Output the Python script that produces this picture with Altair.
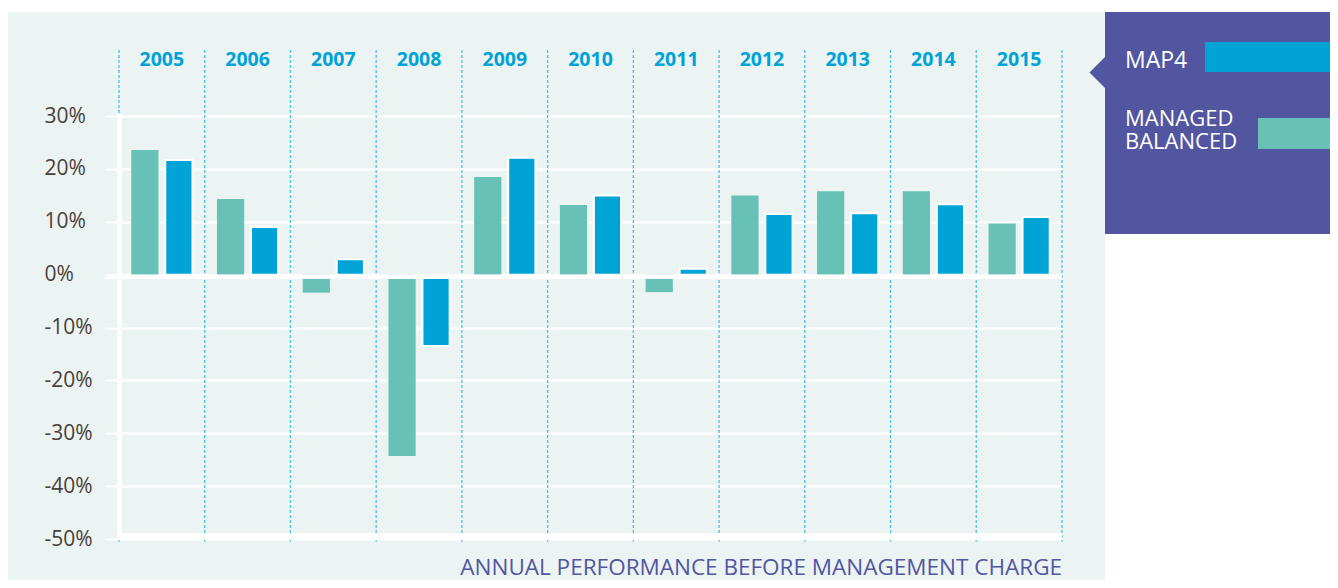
import altair as alt
import pandas as pd

years = ["2005", "2006", "2007", "2008", "2009", "2010", "2011", "2012", "2013", "2014", "2015"]
managed_balanced = [23.6, 14.3, -3.4, -34.3, 18.5, 13.2, -3.3, 15.0, 15.8, 15.8, 9.7]
map4 = [21.7, 9.0, 2.9, -13.5, 22.1, 15.0, 1.1, 11.5, 11.6, 13.3, 10.9]
series_names = ["MANAGED BALANCED", "MAP4"]
series_colors = ["#67C1B6", "#00A3D6"]
y_ticks = [-50, -40, -30, -20, -10, 0, 10, 20, 30]
title_text = "ANNUAL PERFORMANCE BEFORE MANAGEMENT CHARGE"

FONT = "Open Sans"
BG = "#ECF4F3"
PURPLE = "#5256A1"

rows = []
for i, y in enumerate(years):
    rows.append({"year": y, "series": series_names[0], "value": managed_balanced[i]})
    rows.append({"year": y, "series": series_names[1], "value": map4[i]})
df = pd.DataFrame(rows)
years_df = pd.DataFrame({"year": years})
one = pd.DataFrame({"a": [0]})

W, H = 943, 489
Y_TOP = 42.5
xscale = alt.Scale(domain=years, paddingInner=0, paddingOuter=0)
yscale = alt.Scale(domain=[-50, Y_TOP], nice=False, zero=False)

yaxis = alt.Axis(
    values=y_ticks, grid=True, gridColor="white", gridWidth=2,
    tickColor="white", tickWidth=2, tickSize=14, domain=False,
    labelAlign="left", labelPadding=61, labelFont=FONT, labelFontSize=21,
    labelColor="#4A403A", labelBaseline="middle", title=None,
    labelExpr="datum.value + '%'",
)

bars = alt.Chart(df).mark_bar(strokeWidth=2).encode(
    x=alt.X("year:N", scale=xscale, axis=None, sort=years),
    xOffset=alt.XOffset("series:N", sort=series_names,
                        scale=alt.Scale(domain=series_names, paddingInner=0.2, paddingOuter=0.36)),
    y=alt.Y("value:Q", scale=yscale, axis=yaxis),
    y2=alt.datum(0),
    color=alt.Color("series:N", scale=alt.Scale(domain=series_names, range=series_colors), legend=None),
    stroke=alt.Stroke("series:N", scale=alt.Scale(domain=series_names, range=["rgba(0,0,0,0)", "white"]), legend=None),
)

# white areas outside the light panel
white_right = alt.Chart(one).mark_rect(color="white").encode(
    x=alt.value(986), x2=alt.value(1211), y=alt.value(184), y2=alt.value(540))
white_top = alt.Chart(one).mark_rect(color="white").encode(
    x=alt.value(-111), x2=alt.value(1211), y=alt.value(-42), y2=alt.value(-38))

# purple legend panel
purple_box = alt.Chart(one).mark_rect(color=PURPLE).encode(
    x=alt.value(986), x2=alt.value(1211), y=alt.value(-38), y2=alt.value(184))
pointer = alt.Chart(one).mark_point(
    shape="M0,-1 L-1,0 L0,1 Z", filled=True, color=PURPLE, opacity=1, size=961, strokeWidth=0
).encode(x=alt.value(986), y=alt.value(22.5))

# year boundary dashed lines
bound_style = dict(color="#4CC0E6", strokeWidth=1.3, strokeDash=[3, 2])
bounds = alt.Chart(years_df).mark_rule(**bound_style).encode(
    x=alt.X("year:N", scale=xscale, bandPosition=0, sort=years),
    y=alt.datum(Y_TOP), y2=alt.datum(-50.5))
bound_last = alt.Chart(years_df).transform_filter(
    alt.datum.year == years[-1]).mark_rule(**bound_style).encode(
    x=alt.X("year:N", scale=xscale, bandPosition=1, sort=years),
    y=alt.datum(Y_TOP), y2=alt.datum(-50.5))

# year labels
year_labels = alt.Chart(years_df).mark_text(
    font=FONT, fontSize=19.5, fontWeight="bold", color="#00A3D6", baseline="middle"
).encode(x=alt.X("year:N", scale=xscale, sort=years), y=alt.value(10), text="year:N")

# axis lines
y_line = alt.Chart(one).mark_rule(color="white", strokeWidth=4.5).encode(
    x=alt.value(0.5), y=alt.datum(30), y2=alt.datum(-50), yOffset=alt.value(-2))
zero_line = alt.Chart(one).mark_rule(color="white", strokeWidth=4.5).encode(
    x=alt.value(-14), x2=alt.value(W), y=alt.datum(0), yOffset=alt.value(2))
bottom_line = alt.Chart(one).mark_rule(color="white", strokeWidth=6).encode(
    x=alt.value(-1.5), x2=alt.value(W), y=alt.datum(-50), yOffset=alt.value(-2.7))

# legend
mb_words = series_names[0].split(" ")
leg_style = dict(font=FONT, color="white", align="left", baseline="middle")
leg_map4_txt = alt.Chart(one).mark_text(text=series_names[1], fontSize=23, **leg_style).encode(
    x=alt.value(1006), y=alt.value(11))
leg_mb_txt1 = alt.Chart(one).mark_text(text=mb_words[0], fontSize=22, **leg_style).encode(
    x=alt.value(1006), y=alt.value(69))
leg_mb_txt2 = alt.Chart(one).mark_text(text=mb_words[1], fontSize=22, **leg_style).encode(
    x=alt.value(1006), y=alt.value(92))
leg_map4_sw = alt.Chart(one).mark_rect(color=series_colors[1]).encode(
    x=alt.value(1086), x2=alt.value(1211), y=alt.value(-8), y2=alt.value(22))
leg_mb_sw = alt.Chart(one).mark_rect(color=series_colors[0]).encode(
    x=alt.value(1139), x2=alt.value(1211), y=alt.value(68), y2=alt.value(99))

title = alt.Chart(one).mark_text(
    text=title_text, font=FONT, fontSize=22.5, color=PURPLE, align="right", baseline="alphabetic"
).encode(x=alt.value(W), y=alt.value(524.5))

chart = alt.layer(
    white_right, white_top, purple_box, pointer,
    bars, bounds, bound_last, year_labels,
    y_line, zero_line, bottom_line,
    leg_map4_txt, leg_mb_txt1, leg_mb_txt2, leg_map4_sw, leg_mb_sw, title,
).properties(
    width=W, height=H,
    padding={"left": 111, "top": 42, "right": 268, "bottom": 41},
    autosize=alt.AutoSizeParams(type="none"),
    background=BG,
).configure_view(stroke=None)

chart.save("out.html", embed_options={"renderer": "svg", "actions": False})
